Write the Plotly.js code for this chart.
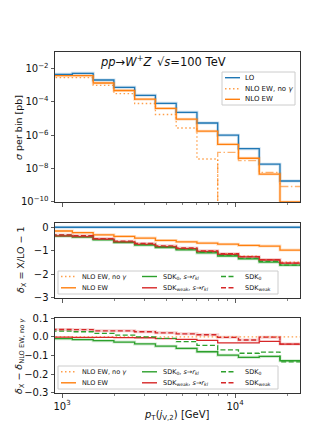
<!DOCTYPE html>
<html><head><meta charset="utf-8">
<script src="https://cdn.plot.ly/plotly-3.0.1.min.js"></script>
<style>html,body{margin:0;padding:0;background:#fff}</style>
</head><body><div id="chart" style="width:316px;height:442px"></div>
<script>
// ---------- data ----------
const binEdges = [871, 1148, 1514, 1995, 2630, 3467, 4571, 6026, 7943, 10471, 13804, 18197, 23988];

// top panel: sigma per bin [pb]
const sigmaLO        = [4.57e-3, 5.25e-3, 2.09e-3, 7.59e-4, 2.51e-4, 8.32e-5, 2.40e-5, 5.50e-6, 1.02e-6, 1.58e-7, 1.86e-8, 1.82e-9];
const sigmaNLOnoGam  = [2.9e-3, 2.9e-3, 1.0e-3, 3.16e-4, 8.1e-5, 1.78e-5, 2.75e-6, 3.8e-8, -9.5e-8, -3.0e-8, -6.0e-9, -8.5e-10];
const sigmaNLOEW     = [3.8e-3, 3.8e-3, 1.38e-3, 4.9e-4, 1.48e-4, 4.1e-5, 9.3e-6, 1.78e-6, 2.9e-7, 4.2e-8, 4.7e-9, 1.0e-10];

// middle panel: delta_X = X/LO - 1
const deltaLO        = [0, 0, 0, 0, 0, 0, 0, 0, 0, 0, 0, 0];
const deltaNLOnoGam  = [-0.37, -0.40, -0.51, -0.62, -0.72, -0.81, -0.90, -1.01, -1.12, -1.23, -1.37, -1.48];
const deltaNLOEW     = [-0.16, -0.23, -0.32, -0.39, -0.46, -0.56, -0.62, -0.67, -0.72, -0.77, -0.80, -0.97];
const deltaSDK0r     = [-0.38, -0.42, -0.53, -0.65, -0.76, -0.86, -0.96, -1.09, -1.22, -1.34, -1.48, -1.61];
const deltaSDKweakr  = [-0.37, -0.40, -0.51, -0.62, -0.73, -0.82, -0.91, -1.03, -1.15, -1.26, -1.39, -1.52];
const deltaSDK0      = [-0.34, -0.37, -0.49, -0.61, -0.72, -0.82, -0.93, -1.06, -1.19, -1.32, -1.45, -1.61];
const deltaSDKweak   = [-0.33, -0.36, -0.48, -0.59, -0.69, -0.79, -0.88, -1.00, -1.12, -1.25, -1.37, -1.52];

// bottom panel: delta_X - delta_NLO EW, no gamma
const diffNLOnoGam   = [0, 0, 0, 0, 0, 0, 0, 0, 0, 0, 0, 0];
const diffNLOEW      = [0.21, 0.17, 0.19, 0.23, 0.26, 0.25, 0.28, 0.34, 0.40, 0.46, 0.57, 0.51];
const diffSDK0r      = [-0.010, -0.015, -0.021, -0.028, -0.038, -0.050, -0.062, -0.080, -0.098, -0.110, -0.105, -0.128];
const diffSDKweakr   = [-0.002, -0.003, -0.003, -0.004, -0.005, -0.010, -0.014, -0.019, -0.033, -0.033, -0.024, -0.039];
const diffSDK0       = [0.030, 0.027, 0.018, 0.009, 0.000, -0.008, -0.026, -0.046, -0.070, -0.088, -0.082, -0.134];
const diffSDKweak    = [0.039, 0.038, 0.032, 0.032, 0.027, 0.021, 0.016, 0.011, -0.003, -0.017, -0.002, -0.039];

const xTickVals = [1000, 10000];
const xTickText = ['10<sup>3</sup>', '10<sup>4</sup>'];
const xMinorVals = [2000, 3000, 4000, 5000, 6000, 7000, 8000, 9000, 20000];
const yTopTickVals = [1e-2, 1e-4, 1e-6, 1e-8, 1e-10];
const yTopTickText = ['10<sup>−2</sup>', '10<sup>−4</sup>', '10<sup>−6</sup>', '10<sup>−8</sup>', '10<sup>−10</sup>'];

// ---------- styling ----------
const W = 316, H = 442;
const FONT = 'DejaVu Sans';
const C = {blue:'#1f77b4', orange:'#ff7f0e', green:'#2ca02c', red:'#d62728'};
const DASH = {solid:'solid', dot:'1.5px,2.5px', dash:'5px,2.5px', dashdot:'8px,2.5px,1.5px,2.5px'};
const px = x => x / W, py = y => 1 - y / H;
const FLOOR = 1e-13;

function step(vals, xa, ya, color, dash, width, opacity) {
  return {type:'scatter', mode:'lines', x: binEdges, y: vals.concat([vals[vals.length - 1]]),
    xaxis: xa, yaxis: ya, line: {shape:'hv', color: color, dash: DASH[dash], width: width},
    opacity: opacity, hoverinfo:'skip', showlegend:false};
}
const posClip = a => a.map(v => v > 0 ? v : FLOOR);
const negAbs = a => a.map(v => v < 0 ? -v : FLOOR);
const band = (vals, xa, ya, color) => step(vals, xa, ya, color, 'solid', 3, 0.22);

const traces = [
  // top
  band(sigmaLO, 'x', 'y', C.blue),
  band(sigmaNLOEW, 'x', 'y', C.orange),
  step(sigmaLO, 'x', 'y', C.blue, 'solid', 1.3, 1),
  step(posClip(sigmaNLOnoGam), 'x', 'y', C.orange, 'dot', 1.3, 0.75),
  step(negAbs(sigmaNLOnoGam), 'x', 'y', C.orange, 'dashdot', 1.3, 0.6),
  step(sigmaNLOEW, 'x', 'y', C.orange, 'solid', 1.3, 1),
  // middle
  band(deltaLO, 'x2', 'y2', C.blue),
  band(deltaNLOEW, 'x2', 'y2', C.orange),
  band(deltaSDK0r, 'x2', 'y2', C.green),
  band(deltaSDKweak, 'x2', 'y2', C.red),
  step(deltaLO, 'x2', 'y2', C.blue, 'solid', 1.3, 1),
  step(deltaNLOnoGam, 'x2', 'y2', C.orange, 'dot', 1.3, 0.75),
  step(deltaNLOEW, 'x2', 'y2', C.orange, 'solid', 1.3, 1),
  step(deltaSDK0r, 'x2', 'y2', C.green, 'solid', 1.3, 1),
  step(deltaSDKweakr, 'x2', 'y2', C.red, 'solid', 1.3, 1),
  step(deltaSDK0, 'x2', 'y2', C.green, 'dash', 1.3, 1),
  step(deltaSDKweak, 'x2', 'y2', C.red, 'dash', 1.3, 1),
  // bottom
  band(diffSDK0r, 'x3', 'y3', C.green),
  band(diffSDKweak, 'x3', 'y3', C.red),
  step(diffNLOnoGam, 'x3', 'y3', C.orange, 'dot', 1.3, 0.75),
  step(diffNLOEW, 'x3', 'y3', C.orange, 'solid', 1.3, 1),
  step(diffSDK0r, 'x3', 'y3', C.green, 'solid', 1.3, 1),
  step(diffSDKweakr, 'x3', 'y3', C.red, 'solid', 1.3, 1),
  step(diffSDK0, 'x3', 'y3', C.green, 'dash', 1.3, 1),
  step(diffSDKweak, 'x3', 'y3', C.red, 'dash', 1.3, 1),
];

const axBase = {showline:true, mirror:true, linecolor:'#333', linewidth:1, ticks:'outside', ticklen:3.5,
  tickwidth:0.8, tickcolor:'#333', showgrid:false, zeroline:false,
  tickfont:{family:FONT, size:10, color:'#111'}};
const xDom = [px(55), px(300)];
function xAxis(anchor, labels) {
  return Object.assign({}, axBase, {type:'log', range:[2.9595, 4.3757], domain:xDom, anchor:anchor,
    tickmode:'array', tickvals:xTickVals, ticktext:xTickText, showticklabels:labels,
    minor:{tickmode:'array', tickvals:xMinorVals, ticks:'outside', ticklen:2, tickwidth:0.6, tickcolor:'#333'}});
}

// ---------- legends drawn as shapes + text ----------
const shapes = [], annotations = [];
function box(x0, x1, y0, y1) {
  shapes.push({type:'rect', xref:'paper', yref:'paper', x0:px(x0), x1:px(x1), y0:py(y1), y1:py(y0),
    line:{color:'#cccccc', width:1}, fillcolor:'rgba(255,255,255,0.85)', layer:'above'});
}
function item(lx0, lx1, y, tx, text, color, dash, opacity, size) {
  shapes.push({type:'line', xref:'paper', yref:'paper', x0:px(lx0), x1:px(lx1), y0:py(y), y1:py(y),
    line:{color:color, width:1.4, dash:DASH[dash]}, opacity:opacity, layer:'above'});
  annotations.push({xref:'paper', yref:'paper', x:px(tx), y:py(y), xanchor:'left', yanchor:'middle',
    showarrow:false, text:text, font:{family:FONT, size:size, color:'#111'}});
}
box(222, 295, 72, 105);
item(225, 240, 77.7, 243, 'LO', C.blue, 'solid', 1, 7);
item(225, 240, 88.7, 243, 'NLO EW, no <i>γ</i>', C.orange, 'dot', 0.75, 7);
item(225, 240, 99.3, 243, 'NLO EW', C.orange, 'solid', 1, 7);

const sdk0r = 'SDK<sub>0</sub>, <i>s</i>→<i>r<sub>kl</sub></i>';
const sdkwr = 'SDK<sub>weak</sub>, <i>s</i>→<i>r<sub>kl</sub></i>';
function bigLegend(y0, y1, r1, r2) {
  box(58, 278, y0, y1);
  item(61, 76, r1, 80, 'NLO EW, no <i>γ</i>', C.orange, 'dot', 0.75, 6.5);
  item(61, 76, r2, 80, 'NLO EW', C.orange, 'solid', 1, 6.5);
  item(142, 157, r1, 161, sdk0r, C.green, 'solid', 1, 6.5);
  item(142, 157, r2, 161, sdkwr, C.red, 'solid', 1, 6.5);
  item(221, 236, r1, 243, 'SDK<sub>0</sub>', C.green, 'dash', 1, 6.5);
  item(221, 236, r2, 243, 'SDK<sub>weak</sub>', C.red, 'dash', 1, 6.5);
}
bigLegend(271, 294, 276.5, 287.8);
bigLegend(366, 389, 371.8, 382.8);

// titles
annotations.push({xref:'paper', yref:'paper', x:px(163), y:py(62), xanchor:'center', yanchor:'middle', showarrow:false,
  text:'<i>pp</i>→<i>W</i><sup>+</sup><i>Z</i>\u2002√<i>s</i>=100 TeV', font:{family:FONT, size:11.5, color:'#111'}});
annotations.push({xref:'paper', yref:'paper', x:px(18), y:py(128), xanchor:'center', yanchor:'middle', showarrow:false,
  textangle:-90, text:'<i>σ</i> per bin [pb]', font:{family:FONT, size:9.5, color:'#111'}});
annotations.push({xref:'paper', yref:'paper', x:px(21), y:py(259), xanchor:'center', yanchor:'middle', showarrow:false,
  textangle:-90, text:'<i>δ</i><sub>X</sub> = X/LO − 1', font:{family:FONT, size:9.5, color:'#111'}});
annotations.push({xref:'paper', yref:'paper', x:px(19), y:py(356), xanchor:'center', yanchor:'middle', showarrow:false,
  textangle:-90, text:'<i>δ</i><sub>X</sub> − <i>δ</i><sub>NLO EW, no <i>γ</i></sub>', font:{family:FONT, size:9.5, color:'#111'}});
annotations.push({xref:'paper', yref:'paper', x:px(177), y:py(415), xanchor:'center', yanchor:'middle', showarrow:false,
  text:'<i>p</i><sub>T</sub>(<i>j</i><sub>V,2</sub>) [GeV]', font:{family:FONT, size:10, color:'#111'}});

const layout = {
  width:W, height:H, margin:{l:0, r:0, t:0, b:0}, paper_bgcolor:'#fff', plot_bgcolor:'#fff',
  showlegend:false, font:{family:FONT, size:10, color:'#111'},
  xaxis: xAxis('y', false), xaxis2: xAxis('y2', false), xaxis3: xAxis('y3', true),
  yaxis: Object.assign({}, axBase, {type:'log', range:[-10.001, -1], domain:[py(202), py(52)], anchor:'x',
    tickmode:'array', tickvals:yTopTickVals, ticktext:yTopTickText}),
  yaxis2: Object.assign({}, axBase, {range:[-3.002, 0.18], domain:[py(298), py(223)], anchor:'x2',
    tickmode:'array', tickvals:[0, -1, -2, -3]}),
  yaxis3: Object.assign({}, axBase, {range:[-0.3005, 0.1005], domain:[py(393), py(318)], anchor:'x3',
    tickmode:'array', tickvals:[0.1, 0, -0.1, -0.2, -0.3], tickformat:'.1f'}),
  shapes: shapes, annotations: annotations
};
Plotly.newPlot('chart', traces, layout, {staticPlot:true, displayModeBar:false});
</script></body></html>
